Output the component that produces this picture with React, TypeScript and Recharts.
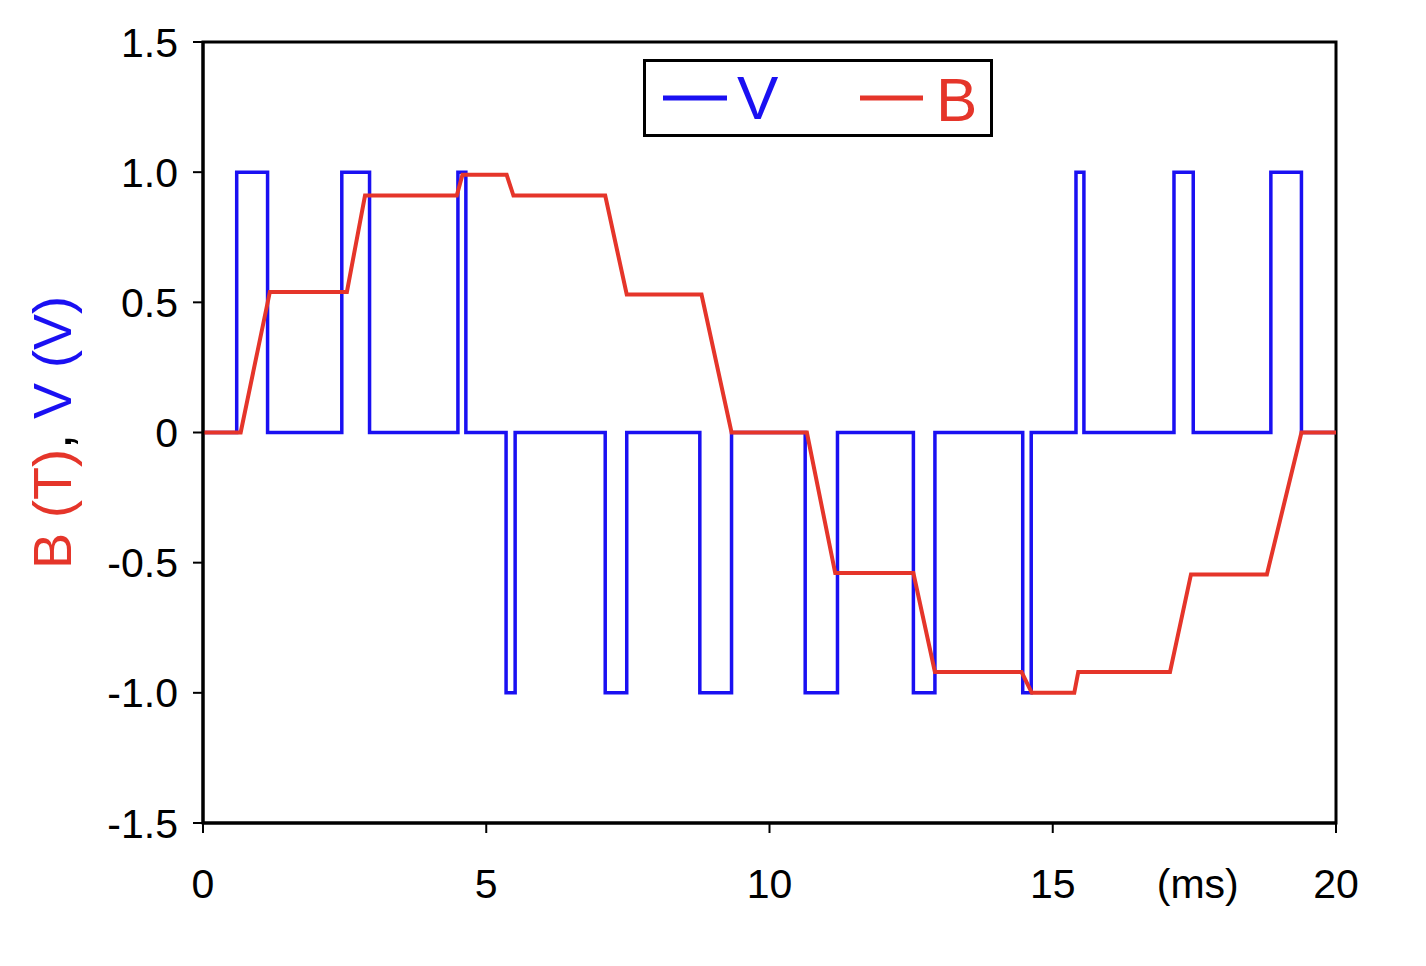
import React from 'react'
import {
  LineChart,
  Line,
  XAxis,
  YAxis,
  Legend,
  ReferenceArea,
} from 'recharts'

// time in ms
const timeTicks = [0, 5, 10, 15, 20]
const timeLabels = ['0', '5', '10', '15', '20']
const valueTicks = [-1.5, -1, -0.5, 0, 0.5, 1, 1.5]
const valueLabels = ['-1.5', '-1.0', '-0.5', '0', '0.5', '1.0', '1.5']

// V (V): switching instants and the level held after each one
const vTimes = [
  0, 0.595, 1.14, 2.45, 2.94, 4.5, 4.64, 5.35, 5.51, 7.1, 7.48, 8.77, 9.33,
  10.63, 11.2, 12.54, 12.92, 14.47, 14.62, 15.41, 15.55, 17.14, 17.48, 18.85,
  19.39, 20,
]
const vLevels = [
  0, 1, 0, 1, 0, 1, 0, -1, 0, -1, 0, -1, 0, -1, 0, -1, 0, -1, 0, 1, 0, 1, 0,
  1, 0, 0,
]

// B (T): corner points of the flux waveform
const bTimes = [
  0, 0.665, 1.18, 2.54, 2.86, 4.48, 4.58, 5.36, 5.48, 7.1, 7.48, 8.8, 9.33,
  10.66, 11.16, 12.54, 12.92, 14.45, 14.63, 15.38, 15.45, 17.07, 17.44, 18.78,
  19.39, 20,
]
const bValues = [
  0, 0, 0.54, 0.54, 0.91, 0.91, 0.99, 0.99, 0.91, 0.91, 0.53, 0.53, 0, 0,
  -0.54, -0.54, -0.92, -0.92, -1.0, -1.0, -0.92, -0.92, -0.545, -0.545, 0, 0,
]

const BLUE = '#1a10f2'
const RED = '#e5352a'
const FONT = '"Liberation Sans", Arial, sans-serif'

const vData = vTimes.map((t, i) => ({ t, v: vLevels[i] }))
const bData = bTimes.map((t, i) => ({ t, b: bValues[i] }))

function LegendBox({ payload }: any) {
  const items = payload || []
  const v = items.find((p: any) => p.dataKey === 'v')
  const b = items.find((p: any) => p.dataKey === 'b')
  return (
    <svg width={350} height={78} style={{ display: 'block' }}>
      <rect x={1.5} y={1.5} width={347} height={75} fill="#fff" stroke="#000" strokeWidth={3} />
      <line x1={20} x2={84} y1={39} y2={39} stroke={v?.color || BLUE} strokeWidth={5} />
      <text x={94} y={60} fontSize={62} fill={v?.color || BLUE} fontFamily={FONT}>
        {v?.value || 'V'}
      </text>
      <line x1={217} x2={280} y1={39} y2={39} stroke={b?.color || RED} strokeWidth={5} />
      <text x={293} y={62} fontSize={62} fill={b?.color || RED} fontFamily={FONT}>
        {b?.value || 'B'}
      </text>
    </svg>
  )
}

function YTitle({ viewBox }: any) {
  const cx = 63
  const cy = viewBox.y + viewBox.height / 2
  return (
    <text
      x={cx}
      y={cy}
      textAnchor="middle"
      fontSize={54}
      fontFamily={FONT}
      transform={`rotate(-90, ${cx}, ${cy})`}
    >
      <tspan fill={RED}>B (T)</tspan>
      <tspan fill="#000">, </tspan>
      <tspan fill={BLUE}>V (V)</tspan>
    </text>
  )
}

function MsLabel({ viewBox }: any) {
  return (
    <text
      x={viewBox.x + viewBox.width * 0.878}
      y={viewBox.y + 75}
      textAnchor="middle"
      fontSize={41}
      fontFamily={FONT}
      fill="#000"
    >
      (ms)
    </text>
  )
}

export default function App() {
  return (
    <div style={{ width: 1410, height: 950, fontFamily: FONT, background: '#fff' }}>
      <LineChart
        width={1410}
        height={950}
        margin={{ top: 34, right: 82, bottom: 20, left: 0 }}
      >
        <XAxis
          dataKey="t"
          type="number"
          domain={[0, 20]}
          ticks={timeTicks}
          tickFormatter={(t: number) => timeLabels[timeTicks.indexOf(t)]}
          allowDataOverflow
          height={115}
          tickSize={10}
          tickMargin={36}
          axisLine={{ stroke: '#000', strokeWidth: 3 }}
          tickLine={{ stroke: '#000', strokeWidth: 2 }}
          tick={{ fill: '#000', fontSize: 41, fontFamily: FONT }}
          label={{ content: MsLabel }}
        />
        <YAxis
          type="number"
          domain={[-1.5, 1.5]}
          ticks={valueTicks}
          tickFormatter={(v: number) => valueLabels[valueTicks.indexOf(v)]}
          allowDataOverflow
          width={195}
          tickSize={10}
          tickMargin={15}
          axisLine={{ stroke: '#000', strokeWidth: 3 }}
          tickLine={{ stroke: '#000', strokeWidth: 2 }}
          tick={{ fill: '#000', fontSize: 41, fontFamily: FONT }}
          label={{ content: YTitle }}
        />
        <ReferenceArea
          x1={0}
          x2={20}
          y1={-1.5}
          y2={1.5}
          fill="none"
          stroke="#000"
          strokeWidth={3}
          fillOpacity={0}
        />
        <Line
          data={vData}
          dataKey="v"
          name="V"
          type="stepAfter"
          stroke={BLUE}
          strokeWidth={3.5}
          dot={false}
          activeDot={false}
          isAnimationActive={false}
        />
        <Line
          data={bData}
          dataKey="b"
          name="B"
          type="linear"
          stroke={RED}
          strokeWidth={4}
          dot={false}
          activeDot={false}
          isAnimationActive={false}
        />
        <Legend
          layout="horizontal"
          align="center"
          verticalAlign="middle"
          content={LegendBox}
          wrapperStyle={{ left: 635, top: 51, width: 350, height: 78 }}
        />
      </LineChart>
    </div>
  )
}
